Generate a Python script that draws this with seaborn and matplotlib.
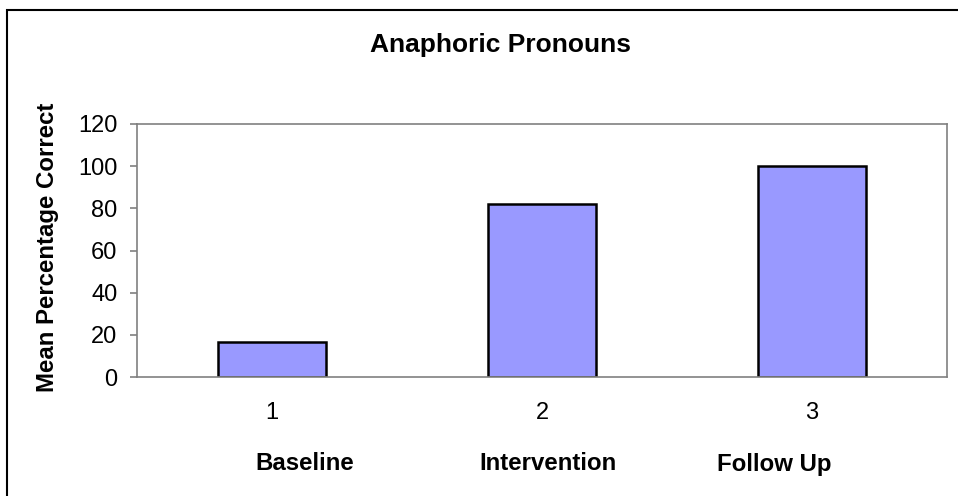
import matplotlib
matplotlib.use('Agg')
import matplotlib.pyplot as plt
import seaborn as sns
import pandas as pd
from matplotlib.patches import Rectangle

# --- data ---
SESSIONS = ['1', '2', '3']
PHASES = ['Baseline', 'Intervention', 'Follow Up']
SCORES = [16.7, 82, 100]

TITLE = 'Anaphoric Pronouns'
Y_LABEL = 'Mean Percentage Correct'
BAR_COLOR = '#9999FF'
SPINE_COLOR = '#808080'
W, H = 958, 496

sns.set_style('white')
plt.rcParams['font.family'] = ['Liberation Sans', 'DejaVu Sans']
plt.rcParams['text.color'] = 'black'
plt.rcParams['xtick.color'] = 'black'
plt.rcParams['ytick.color'] = 'black'

df = pd.DataFrame({'session': SESSIONS, 'phase': PHASES, 'score': SCORES})

fig = plt.figure(figsize=(W / 100, H / 100), dpi=100)
ax = fig.add_axes([137 / W, 1 - 377 / H, 810 / W, 253 / H])

sns.barplot(data=df, x='session', y='score', order=SESSIONS, color=BAR_COLOR,
            saturation=1, edgecolor='black', linewidth=1.8, width=0.4, ax=ax)

ax.set_xlim(-0.5, len(SESSIONS) - 0.5)
ax.set_ylim(0, 120)
ax.set_yticks(range(0, 121, 20))

# spines
for side in ['left', 'right', 'top', 'bottom']:
    ax.spines[side].set_visible(True)
    ax.spines[side].set_color(SPINE_COLOR)
    ax.spines[side].set_linewidth(1.2)

# tick marks at category boundaries, labels at centres
ax.set_xticks([i + 0.5 for i in range(len(SESSIONS))], minor=True)
ax.tick_params(axis='x', which='major', length=0, pad=18, labelsize=17)
ax.tick_params(axis='x', which='minor', length=5, width=1.2, color=SPINE_COLOR, direction='out')
ax.tick_params(axis='y', which='major', length=5, width=1.2, color=SPINE_COLOR,
               direction='out', labelsize=17, pad=9, left=True)

ax.set_xlabel('')
ax.set_ylabel('')
fig.text(48 / W, 1 - 247 / H, Y_LABEL, rotation=90, ha='center', va='center',
         fontsize=17.3, fontweight='bold')
fig.text(500 / W, 1 - 45 / H, TITLE, ha='center', va='center', fontsize=19, fontweight='bold')

# phase names under the session numbers
phase_x = [255, 479, 717]
for px, name in zip(phase_x, PHASES):
    fig.text(px / W, 1 - 464 / H, name, ha='left', va='center',
             fontsize=17.3, fontweight='bold')

# chart area border (left and top edges visible)
fig.patches.append(Rectangle((7 / W, -0.05), 1.1, 1 - 10 / H + 0.05,
                             transform=fig.transFigure, fill=False,
                             edgecolor='black', linewidth=1.5, clip_on=False))

fig.savefig('out.png', dpi=100)
